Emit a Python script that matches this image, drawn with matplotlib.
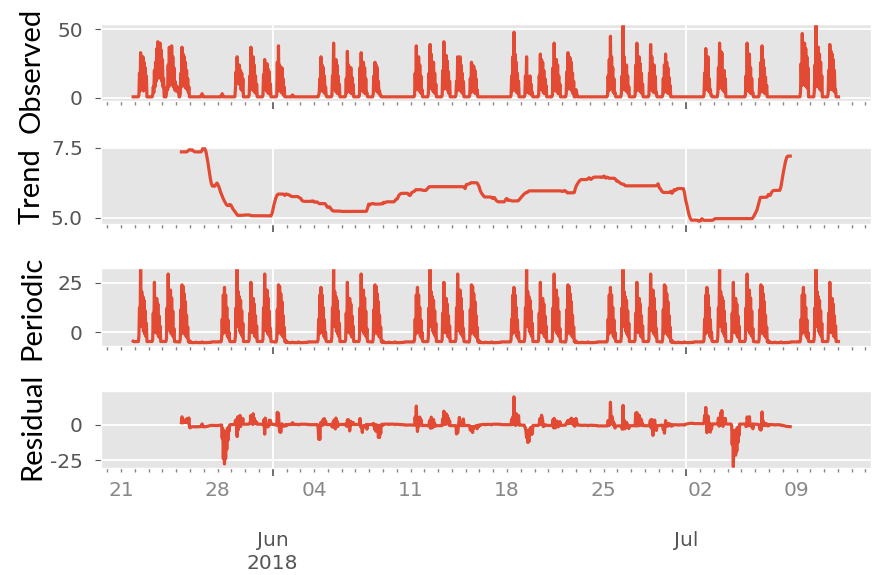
import numpy as np
import pandas as pd
import matplotlib
matplotlib.use("Agg")
import matplotlib.pyplot as plt
import matplotlib.dates as mdates
from matplotlib.ticker import FuncFormatter, FixedLocator

# ---- hourly load readings --------------------------------------------------
series_start = "2018-05-21 21:00"
series_end = "2018-07-12 01:00"
night_level = 0.7

# (date, first hour, hourly values from that hour on)
workdays = [
    ("2018-05-22", 7, [2, 18, 5, 33, 7, 28, 6, 30, 5, 26, 8, 22, 6, 16]),
    ("2018-05-23", 7, [2, 8, 4, 20, 8, 26, 12, 36, 14, 41, 22, 38, 20, 40, 14, 35, 12, 28, 8, 14]),
    ("2018-05-24", 7, [3, 8, 6, 24, 8, 37, 10, 33, 12, 38, 10, 30, 8, 22, 6, 12, 5, 9, 6, 8, 4, 6]),
    ("2018-05-25", 7, [3, 18, 8, 37, 10, 32, 9, 30, 8, 26, 7, 20, 6, 14, 4, 8]),
    ("2018-05-26", 20, [2, 3, 2]),
    ("2018-05-28", 7, [2, 3, 2]),
    ("2018-05-29", 7, [6, 19, 12, 30, 14, 22, 10, 24, 12, 20, 6, 18, 5, 14]),
    ("2018-05-30", 7, [2, 16, 6, 37, 7, 26, 6, 30, 5, 24, 4, 16, 3, 10]),
    ("2018-05-31", 7, [2, 17, 10, 28, 12, 24, 5, 25, 4, 21, 3, 19, 3, 10]),
    ("2018-06-01", 7, [2, 26, 5, 38, 6, 24, 5, 20, 4, 22, 3, 14, 2, 8]),
    ("2018-06-02", 10, [2, 2]),
    ("2018-06-04", 8, [2, 4, 14, 5, 30, 6, 24, 5, 22, 4, 16, 3, 8, 2]),
    ("2018-06-05", 7, [2, 16, 10, 40, 12, 24, 5, 28, 4, 24, 3, 16, 3, 10]),
    ("2018-06-06", 7, [2, 14, 4, 34, 5, 24, 5, 18, 4, 22, 3, 15, 3, 10]),
    ("2018-06-07", 7, [2, 22, 5, 33, 6, 20, 5, 26, 4, 22, 3, 14, 3, 4]),
    ("2018-06-08", 7, [3, 16, 5, 26, 6, 24, 5, 22, 4, 12, 3, 5, 2, 2]),
    ("2018-06-11", 7, [2, 18, 6, 38, 7, 24, 6, 30, 5, 24, 4, 16, 3, 6]),
    ("2018-06-12", 7, [3, 18, 12, 39, 7, 32, 12, 22, 5, 26, 4, 18, 3, 10]),
    ("2018-06-13", 7, [2, 20, 6, 41, 7, 24, 7, 31, 10, 27, 5, 19, 3, 12]),
    ("2018-06-14", 7, [2, 12, 5, 30, 6, 28, 12, 30, 5, 24, 4, 18, 3, 12]),
    ("2018-06-15", 7, [2, 14, 4, 26, 5, 24, 5, 23, 4, 20, 3, 14, 3, 6]),
    ("2018-06-18", 7, [2, 16, 5, 30, 6, 48, 6, 32, 5, 26, 4, 18, 3, 12]),
    ("2018-06-19", 7, [2, 16, 4, 30, 5, 14, 4, 12, 3, 16, 3, 10, 2, 4]),
    ("2018-06-20", 7, [2, 16, 10, 32, 6, 28, 12, 26, 4, 20, 3, 14, 3, 9]),
    ("2018-06-21", 7, [2, 22, 5, 40, 6, 24, 5, 28, 8, 24, 3, 16, 3, 10]),
    ("2018-06-22", 7, [3, 19, 6, 33, 7, 30, 7, 29, 6, 26, 5, 18, 3, 12]),
    ("2018-06-23", 0, [6, 4, 2]),
    ("2018-06-25", 7, [2, 16, 5, 28, 6, 45, 10, 30, 12, 22, 4, 14, 3, 4]),
    ("2018-06-26", 7, [3, 16, 6, 53, 7, 30, 6, 22, 5, 24, 6, 16, 3, 8]),
    ("2018-06-27", 7, [2, 24, 5, 40, 6, 22, 6, 30, 5, 25, 4, 18, 3, 10]),
    ("2018-06-28", 7, [2, 18, 10, 39, 6, 30, 5, 20, 4, 24, 8, 16, 3, 4]),
    ("2018-06-29", 7, [2, 14, 4, 24, 5, 32, 5, 26, 4, 22, 3, 15, 3, 9]),
    ("2018-07-02", 7, [3, 18, 6, 36, 7, 22, 6, 30, 5, 14, 4, 6, 2, 2]),
    ("2018-07-03", 7, [4, 22, 7, 40, 8, 34, 12, 33, 6, 20, 5, 20, 4, 14]),
    ("2018-07-05", 7, [2, 16, 5, 40, 10, 28, 5, 32, 4, 22, 3, 14, 3, 4]),
    ("2018-07-06", 7, [2, 14, 4, 26, 5, 38, 5, 28, 4, 22, 3, 15, 3, 9]),
    ("2018-07-09", 7, [5, 25, 9, 47, 11, 30, 10, 40, 9, 36, 8, 30, 7, 22]),
    ("2018-07-10", 7, [5, 24, 8, 53, 9, 30, 8, 37, 12, 32, 6, 26, 5, 16]),
    ("2018-07-11", 7, [3, 20, 6, 39, 7, 34, 6, 32, 6, 28, 5, 20, 4, 6]),
]

period = 168  # one week of hourly samples

index = pd.date_range(series_start, series_end, freq="h")
observed = pd.Series(night_level, index=index, dtype=float)
for day, first_hour, values in workdays:
    t0 = pd.Timestamp(day) + pd.Timedelta(hours=first_hour)
    stamps = pd.date_range(t0, periods=len(values), freq="h")
    stamps = stamps[stamps <= index[-1]]
    observed.loc[stamps] = values[:len(stamps)]

# ---- classical additive decomposition (centred 2x168 moving average) -------
y = observed.to_numpy()
n = len(y)
weights = np.r_[0.5, np.ones(period - 1), 0.5] / period
trend_v = np.full(n, np.nan)
half = period // 2
trend_v[half:n - half] = np.convolve(y, weights, mode="valid")
detrended = y - trend_v
week_profile = np.array([np.nanmean(detrended[i::period]) for i in range(period)])
week_profile -= week_profile.mean()
seasonal_v = np.tile(week_profile, n // period + 1)[:n]
resid_v = y - trend_v - seasonal_v

trend = pd.Series(trend_v, index=index)
seasonal = pd.Series(seasonal_v, index=index)
resid = pd.Series(resid_v, index=index)

# ---- figure ----------------------------------------------------------------
plt.style.use("ggplot")
plt.rcParams["axes.unicode_minus"] = False
line_color = "#E24A33"
tick_color = "#555555"

fig, axes = plt.subplots(4, 1, sharex=True, figsize=(8.77, 5.75), dpi=100)
fig.subplots_adjust(left=101 / 877, right=871 / 877,
                    top=1 - 24 / 575, bottom=1 - 468 / 575, hspace=0.58)

panels = [
    ("Observed", observed, (-2.6, 54.0), [0, 50], 70),
    ("Trend", trend, (4.79, 7.56), [5.0, 7.5], 186),
    ("Periodic", seasonal, (-6.9, 32.4), [0, 25], 308),
    ("Residual", resid, (-30.5, 24.0), [-25, 0], 426),
]

month_starts = pd.to_datetime(["2018-06-01", "2018-07-01"])
month_text = ["Jun\n2018", "Jul"]


def day_label(x, pos):
    d = mdates.num2date(x)
    return d.strftime("%d") if d.weekday() == 0 else ""


def month_label(x, pos):
    d = mdates.num2date(x).replace(tzinfo=None)
    for m, txt in zip(month_starts, month_text):
        if abs((d - m).total_seconds()) < 3600:
            return txt
    return ""


for ax, (name, s, lim, ticks, ycen) in zip(axes, panels):
    ax.plot(s.index, s.values, color=line_color, lw=2.3)
    ax.set_ylim(*lim)
    ax.set_yticks(ticks)
    ax.tick_params(axis="y", labelsize=14.5, colors=tick_color, length=4, pad=9)
    ax.set_facecolor("#E5E5E5")
    ax.grid(True, which="major", color="white", lw=1.3)
    ax.grid(False, which="minor")
    ax.xaxis.set_major_locator(FixedLocator(mdates.date2num(month_starts)))
    ax.xaxis.set_minor_locator(mdates.DayLocator())
    ax.tick_params(axis="x", which="major", length=5.5, width=1.2,
                   colors=tick_color, labelsize=14.5, pad=40)
    ax.tick_params(axis="x", which="minor", length=3, width=1,
                   colors="#888888", labelsize=14.5, pad=6)
    fig.text(32 / 877, 1 - ycen / 575, name, rotation=90, ha="center",
             va="center", fontsize=21, family="Lato", color="black")

ax = axes[-1]
ax.xaxis.set_major_formatter(FuncFormatter(month_label))
ax.xaxis.set_minor_formatter(FuncFormatter(day_label))
ax.set_xlim(pd.Timestamp("2018-05-19 13:00"), pd.Timestamp("2018-07-14 09:40"))
for a in axes[:-1]:
    a.tick_params(axis="x", which="both", labelbottom=False)
fig.canvas.draw()
for lab in ax.get_xticklabels(which="major"):
    lab.set_linespacing(1.25)

fig.savefig("out.png", dpi=100)
